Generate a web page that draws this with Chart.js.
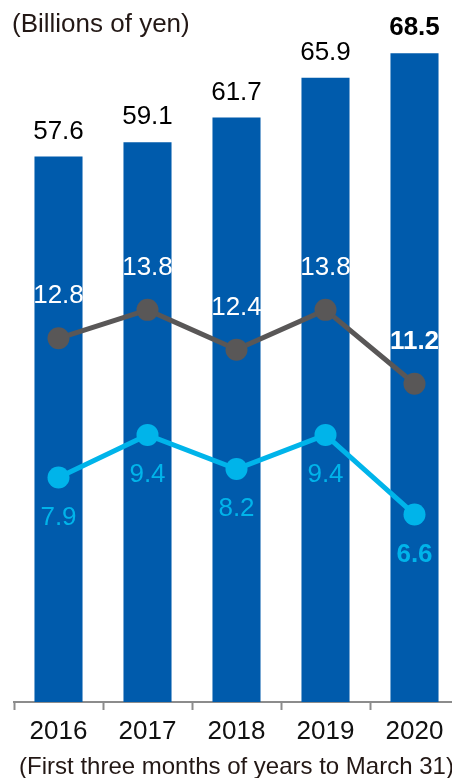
<!DOCTYPE html>
<html>
<head>
<meta charset="utf-8">
<script src="https://cdn.jsdelivr.net/npm/chart.js@4/dist/chart.umd.min.js"></script>
<style>
  html, body { margin: 0; padding: 0; background: #fff; overflow: hidden; }
  #wrap { position: relative; width: 470px; height: 778px; }
  #unit {
    position: absolute; left: 12px; top: 10px;
    font: 26px "Liberation Sans", Arial, sans-serif; line-height: 1;
    color: #231815;
  }
</style>
</head>
<body>
<div id="wrap">
  <div id="unit">(Billions of yen)</div>
  <canvas id="chart" width="470" height="778"></canvas>
</div>
<script>
  // values
  var years = ["2016", "2017", "2018", "2019", "2020"];
  var sales = [57.6, 59.1, 61.7, 65.9, 68.5];
  var grayLine = [12.8, 13.8, 12.4, 13.8, 11.2];
  var cyanLine = [7.9, 9.4, 8.2, 9.4, 6.6];
  var footNote = "(First three months of years to March 31)";

  var FONT = '"Liberation Sans", Arial, sans-serif';

  // draws the number labels above / below each mark
  var valueLabels = {
    id: 'valueLabels',
    afterDatasetsDraw: function(chart) {
      var ctx = chart.ctx;
      chart.data.datasets.forEach(function(ds, di) {
        var meta = chart.getDatasetMeta(di);
        meta.data.forEach(function(el, i) {
          var last = i === ds.data.length - 1;
          ctx.save();
          ctx.font = (last ? 'bold ' : '') + '26px ' + FONT;
          ctx.textAlign = 'center';
          ctx.textBaseline = 'middle';
          var y;
          if (ds.type === 'bar') {
            ctx.fillStyle = '#000';
            y = el.y - 25;
          } else if (ds.labelPos === 'above') {
            ctx.fillStyle = '#fff';
            y = el.y - 42;
          } else {
            ctx.fillStyle = '#00b4ea';
            y = el.y + 40;
          }
          ctx.fillText(ds.data[i].toFixed(1), el.x, y);
          ctx.restore();
        });
      });
    }
  };

  var ctx = document.getElementById('chart').getContext('2d');
  var chart = new Chart(ctx, {
    type: 'bar',
    data: {
      labels: years,
      datasets: [
        {
          type: 'line',
          data: grayLine,
          yAxisID: 'y1',
          labelPos: 'above',
          borderColor: '#595757',
          backgroundColor: '#595757',
          borderWidth: 5,
          pointRadius: 11,
          pointBackgroundColor: '#595757',
          pointBorderWidth: 0,
          order: 1
        },
        {
          type: 'line',
          data: cyanLine,
          yAxisID: 'y1',
          labelPos: 'below',
          borderColor: '#00b4ea',
          backgroundColor: '#00b4ea',
          borderWidth: 5,
          pointRadius: 11,
          pointBackgroundColor: '#00b4ea',
          pointBorderWidth: 0,
          order: 1
        },
        {
          type: 'bar',
          data: sales,
          yAxisID: 'y',
          backgroundColor: '#005bac',
          barPercentage: 0.54,
          categoryPercentage: 1,
          order: 2
        }
      ]
    },
    options: {
      responsive: false,
      animation: false,
      layout: { padding: { left: 14, right: 10, top: 20, bottom: 0 } },
      plugins: {
        legend: { display: false },
        tooltip: { enabled: false }
      },
      scales: {
        x: {
          afterFit: function(s) { s.height = 76; },
          grid: {
            display: true,
            drawOnChartArea: false,
            drawTicks: true,
            tickLength: 8,
            tickWidth: 2,
            tickColor: '#8c8c8c'
          },
          border: { display: true, color: '#8c8c8c', width: 2 },
          ticks: {
            color: '#111',
            padding: 7,
            font: { family: FONT, size: 26, lineHeight: 1.15 }
          },
          title: {
            display: true,
            text: footNote,
            color: '#231815',
            padding: 0,
            font: { family: FONT, size: 24, lineHeight: 0.85 }
          }
        },
        y: { display: false, min: 0, max: 72 },
        y1: { display: false, min: 0, max: 24 }
      }
    },
    plugins: [valueLabels]
  });
</script>
</body>
</html>
